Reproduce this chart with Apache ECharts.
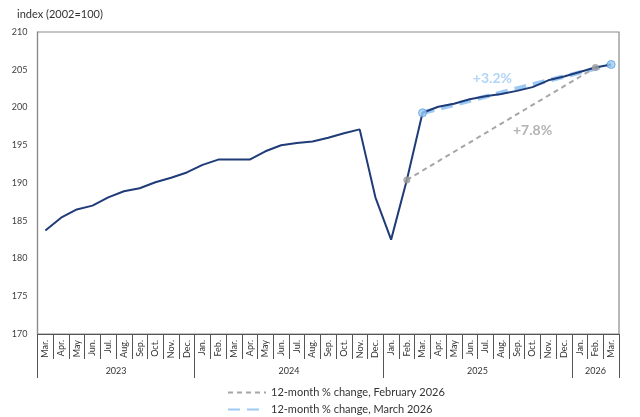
<!DOCTYPE html>
<html>
<head>
<meta charset="utf-8">
<script src="https://cdn.jsdelivr.net/npm/echarts@6/dist/echarts.min.js"></script>
<style>
html,body{margin:0;padding:0;background:#fff;}
#chart{width:640px;height:417px;}
</style>
</head>
<body>
<div id="chart"></div>
<script>
// ---- data ----
const months = ['Mar.','Apr.','May','Jun.','Jul.','Aug.','Sep.','Oct.','Nov.','Dec.',
  'Jan.','Feb.','Mar.','Apr.','May','Jun.','Jul.','Aug.','Sep.','Oct.','Nov.','Dec.',
  'Jan.','Feb.','Mar.','Apr.','May','Jun.','Jul.','Aug.','Sep.','Oct.','Nov.','Dec.',
  'Jan.','Feb.','Mar.'];
const years = ['2023','2024','2025','2026'];
const yearCounts = [10, 12, 12, 3];
const indexValues = [183.7,185.4,186.5,187.0,188.1,188.9,189.3,190.1,190.7,191.4,
  192.4,193.1,193.1,193.1,194.2,195.0,195.3,195.5,196.0,196.6,197.1,188.1,
  182.5,190.4,199.3,200.1,200.5,201.1,201.5,201.8,202.2,202.7,203.6,204.1,
  204.7,205.3,205.7];
const febStartIdx = 23, febEndIdx = 35;   // Feb 2025 -> Feb 2026
const marStartIdx = 24, marEndIdx = 36;   // Mar 2025 -> Mar 2026
const legendNames = ['12-month % change, February 2026','12-month % change, March 2026'];
const annotText = ['+3.2%','+7.8%'];
const annotIdx = [28, 31];
const annotVal = [203.8, 196.9];
const yTicks = {min:170, max:210, interval:5};

// ---- derived ----
const keys = months.map((m,i)=> i + '|' + m);
const yearBounds = [0]; yearCounts.forEach(c=>yearBounds.push(yearBounds[yearBounds.length-1]+c));
const yearCenters = yearCounts.map((c,i)=> yearBounds[i] + c/2);
function seg(a,b){ return indexValues.map((v,i)=> (i===a||i===b) ? v : null); }
function pts(a,b){ return [[a, indexValues[a]],[b, indexValues[b]]]; }

const FONT = 'Lato, "Noto Sans", sans-serif';
const chart = echarts.init(document.getElementById('chart'));
chart.setOption({
  animation:false,
  textStyle:{fontFamily:FONT},
  title:{text:'index (2002=100)', left:12, top:4, textStyle:{fontSize:11, fontWeight:'normal', color:'#333', fontFamily:FONT}},
  grid:{left:37.5, right:21, top:32, bottom:83, show:true, borderColor:'#8a8a8a', borderWidth:1.2, containLabel:false},
  legend:{
    orient:'vertical', left:222, top:382, height:60, itemWidth:38, itemHeight:10, itemGap:6,
    itemStyle:{opacity:0},
    data:legendNames, textStyle:{fontSize:11, color:'#333', fontFamily:FONT}
  },
  xAxis:[{
    type:'category', data:keys, boundaryGap:true,
    axisLine:{show:true, lineStyle:{color:'#555', width:1}},
    axisTick:{show:true, interval:0, length:25, lineStyle:{color:'#555', width:1}},
    axisLabel:{interval:0, rotate:90, fontSize:9, color:'#333', margin:6, formatter:(v)=>v.split('|')[1]},
    splitLine:{show:false}
  },{
    type:'value', min:0, max:keys.length, position:'bottom',
    axisLine:{show:false},
    axisTick:{show:true, customValues:yearBounds, length:44, lineStyle:{color:'#555', width:1}},
    axisLabel:{show:true, customValues:yearCenters, margin:33, fontSize:9, color:'#333',
      formatter:(v)=>{ const i = yearCenters.indexOf(v); return i>=0 ? years[i] : ''; }},
    splitLine:{show:false}
  }],
  yAxis:{
    type:'value', min:yTicks.min, max:yTicks.max, interval:yTicks.interval,
    axisLine:{show:true, lineStyle:{color:'#8a8a8a', width:1.2}},
    axisTick:{show:false},
    axisLabel:{fontSize:9, color:'#404040', margin:10},
    splitLine:{show:false}
  },
  series:[
    {name:legendNames[1], type:'line', data:seg(marStartIdx, marEndIdx), connectNulls:true, symbol:'none',
      lineStyle:{color:'#9dcaf5', width:4.5, type:[12,7]}, itemStyle:{color:'#9dcaf5'}, z:2},
    {name:'index', type:'line', data:indexValues, symbol:'none',
      lineStyle:{color:'#1f3b78', width:2}, itemStyle:{color:'#1f3b78'}, z:3},
    {name:legendNames[0], type:'line', data:seg(febStartIdx, febEndIdx), connectNulls:true, symbol:'none',
      lineStyle:{color:'#a6a6a6', width:2, type:[5,4]}, itemStyle:{color:'#a6a6a6'}, z:4},
    {name:'febDots', type:'scatter', data:pts(febStartIdx, febEndIdx), symbolSize:7,
      itemStyle:{color:'#9a9a9a'}, z:5},
    {name:'marDots', type:'scatter', data:pts(marStartIdx, marEndIdx), symbolSize:8,
      itemStyle:{color:'#9dcaf5', borderColor:'#5d9fdc', borderWidth:1}, z:5},
    {name:'annot', type:'scatter', symbolSize:0, z:6,
      data:annotText.map((t,i)=>({value:[annotIdx[i], annotVal[i]], label:{formatter:t, color: i===0 ? '#9dcaf5' : '#a0a0a0', offset: i===0 ? [7,0] : [0,0]}})),
      label:{show:true, position:'inside', fontSize:14, fontWeight:'bold', fontFamily:FONT}}
  ]
});
</script>
</body>
</html>
